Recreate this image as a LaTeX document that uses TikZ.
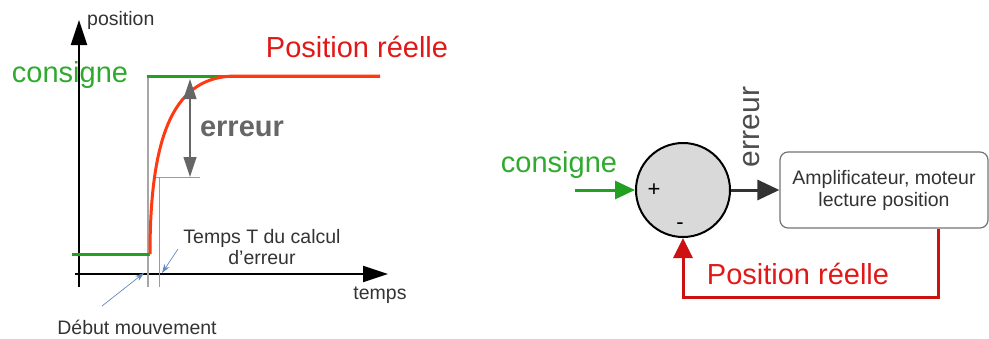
\documentclass[tikz,border=0pt]{standalone}
\usepackage{fontspec}
\setmainfont{Liberation Sans}
\usetikzlibrary{arrows.meta}
\definecolor{cgreen}{HTML}{22A022}
\definecolor{tgreen}{HTML}{2FAA2F}
\definecolor{cred}{HTML}{FF3A12}
\definecolor{tred}{HTML}{E01818}
\definecolor{fred}{HTML}{CC1111}
\definecolor{cgrey}{HTML}{666666}
\definecolor{cblue}{HTML}{7F9FD0}
\definecolor{dblue}{HTML}{3A6AB0}
\tikzset{
  bigtxt/.style={font=\fontsize{29}{34}\selectfont, inner sep=0pt},
  smalltxt/.style={font=\fontsize{19.5}{21}\selectfont, inner sep=0pt, text=black!80},
  axis/.style={line width=2pt, -{Triangle[length=25pt,width=16pt]}},
  pointer/.style={dblue!80, line width=0.7pt, -{Stealth[length=9pt,width=6pt]}},
}
\begin{document}
\begin{tikzpicture}[x=1pt,y=-1pt]
\useasboundingbox (0,0) rectangle (989,338);
% ---------- left chart ----------
\coordinate (yo) at (79,287);
\coordinate (yt) at (79,20);
\coordinate (xo) at (75,274);
\coordinate (xt) at (388,274);
\draw[axis] (yo) -- (yt);
\draw[axis] (xo) -- (xt);
\node[smalltxt, anchor=west] (lpos) at (87,20) {position};
\node[smalltxt] (ltemps) at (380,295) {temps};
% grey and blue guide lines
\coordinate (g1) at (148,76);
\coordinate (g2) at (148,287);
\draw[black!35, line width=1.8pt] (g1) -- (g2);
\coordinate (b1) at (159,177);
\coordinate (b2) at (159,287);
\coordinate (b3) at (200,177);
\draw[cblue, line width=0.8pt] (b2) -- (b1);
\draw[cblue, line width=0.8pt] (156,177) -- (b3);
% consigne step
\coordinate (c1) at (72,254);
\coordinate (c2) at (150,254);
\coordinate (c3) at (147,76);
\coordinate (c4) at (380,76);
\draw[cgreen, line width=3pt] (c1) -- (c2);
\draw[cgreen, line width=3pt] (c3) -- (c4);
% real position curve
\draw[cred, line width=3pt] (c2) .. controls (150,130) and (176,76) .. (236,76) -- (c4);
% error arrow
\coordinate (e1) at (190,79);
\coordinate (e2) at (190,177);
\draw[cgrey, line width=1.2pt, {Triangle[length=20pt,width=13pt]}-{Triangle[length=20pt,width=13pt]}] (e1) -- (e2);
\node[bigtxt, font=\fontsize{29}{34}\selectfont\bfseries, text=cgrey] (lerr) at (242,129) {erreur};
\node[bigtxt, text=tgreen] (lcons) at (70,75) {consigne};
\node[bigtxt, text=tred] (lreal) at (357,47) {Position réelle};
% annotations
\node[smalltxt, align=center] (ltT) at (262,247) {Temps T du calcul\\d'erreur};
\coordinate (tT) at (178,249);
\coordinate (tTend) at (162,273);
\draw[pointer] (tT) -- (tTend);
\node[smalltxt] (ldeb) at (137,327) {Début mouvement};
\coordinate (dm) at (102,306);
\coordinate (dmend) at (144,273);
\draw[pointer] (dm) -- (dmend);
% ---------- right block diagram ----------
\node[circle, draw=black, line width=2pt, fill=black!15, minimum size=94pt, inner sep=0pt] (sum) at (683,190) {};
\node[font=\fontsize{22}{22}\selectfont, inner sep=0pt] (plus) at (654,190) {+};
\node[font=\fontsize{22}{22}\selectfont, inner sep=0pt] (minus) at (680,226) {-};
\node[draw=black!55, line width=1.2pt, rounded corners=8pt, minimum width=208pt, minimum height=76pt, align=center, font=\fontsize{19.5}{22}\selectfont, text=black!80] (box) at (884,190) {Amplificateur, moteur\\lecture position};
\coordinate (cin) at (575,190);
\draw[cgreen, line width=3pt, -{Triangle[length=20pt,width=18pt]}] (cin) -- (sum.west);
\node[bigtxt, text=tgreen] (rcons) at (559,165) {consigne};
\draw[black!80, line width=3pt, -{Triangle[length=22pt,width=20pt]}] (sum.east) -- (box.west);
\node[bigtxt, rotate=90, text=black!70, font=\fontsize{30}{34}\selectfont] (rerr) at (752,127) {erreur};
\coordinate (fb) at (938,297);
\draw[fred, line width=3pt, -{Triangle[length=20pt,width=19pt]}] (box.south -| fb) -- (fb) -- (sum.south |- fb) -- (sum.south);
\node[bigtxt, text=tred] (rreal) at (798,274) {Position réelle};
\end{tikzpicture}
\end{document}
